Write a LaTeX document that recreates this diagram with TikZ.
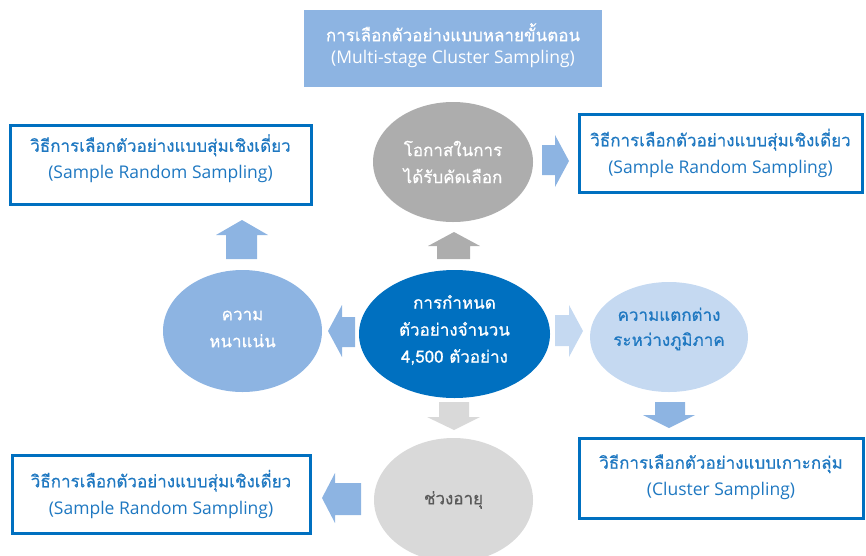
\documentclass[tikz,border=0pt]{standalone}
\usepackage{fontspec}
\setmainfont{Open Sans}
\newfontfamily\thai[Script=Thai,FakeBold=0.6]{Loma}
\usetikzlibrary{shapes.geometric}
\definecolor{dblue}{HTML}{0070C0}
\definecolor{mblue}{HTML}{8DB4E2}
\definecolor{lblue}{HTML}{C5D9F1}
\definecolor{dgray}{HTML}{ADADAD}
\definecolor{lgray}{HTML}{D9D9D9}
\definecolor{tblue}{HTML}{1F78C1}
\definecolor{tgray}{HTML}{595959}
\tikzset{
  x=1pt, y=-1pt,
  oval/.style={ellipse, inner sep=0pt},
  ovaltext/.style={inner sep=0pt, align=center, font=\thai\fontsize{17}{27}\selectfont},
  outbox/.style={rectangle, draw=dblue, line width=3pt, inner sep=0pt},
  boxtext/.style={inner sep=0pt, align=center, text=tblue},
  fillbox/.style={rectangle, fill=mblue, inner sep=0pt},
}
\newcommand\twol[2]{{\thai\fontsize{17}{17}\selectfont #1}\\[8pt]{\fontsize{17.5}{17.5}\selectfont #2}}
\begin{document}
\begin{tikzpicture}
\useasboundingbox (0,0) rectangle (866,555);
\clip (0,0) rectangle (866,555);
% boxes
\node[fillbox, minimum width=298pt, minimum height=77pt] (top) at (453,48.5) {};
\node[boxtext, text=white] at ([yshift=3pt]top.center) {\twol{การเลือกตัวอย่างแบบหลายขั้นตอน}{(Multi-stage Cluster Sampling)}};
\node[outbox, minimum width=301pt, minimum height=79pt] (tl) at (160.5,164.5) {};
\node[boxtext] at ([yshift=6pt]tl.center) {\twol{วิธีการเลือกตัวอย่างแบบสุ่มเชิงเดี่ยว}{(Sample Random Sampling)}};
\node[outbox, minimum width=283pt, minimum height=78pt] (tr) at (720.5,153) {};
\node[boxtext] at (tr.center) {\twol{วิธีการเลือกตัวอย่างแบบสุ่มเชิงเดี่ยว}{(Sample Random Sampling)}};
\node[outbox, minimum width=284pt, minimum height=80pt] (br) at (721,478) {};
\node[boxtext] at ([yshift=1pt]br.center) {\twol{วิธีการเลือกตัวอย่างแบบเกาะกลุ่ม}{(Cluster Sampling)}};
\node[outbox, minimum width=298pt, minimum height=78pt] (bl) at (161,494) {};
\node[boxtext] at (bl.center) {\twol{วิธีการเลือกตัวอย่างแบบสุ่มเชิงเดี่ยว}{(Sample Random Sampling)}};
% ellipses
\node[oval, fill=dgray, minimum width=160pt, minimum height=120pt] (chance) at (453,162) {};
\node[ovaltext, text=white] at (chance.center) {โอกาสในการ\\ได้รับคัดเลือก};
\node[oval, fill=mblue, minimum width=159pt, minimum height=122pt] (dens) at (242.5,331) {};
\node[ovaltext, text=white] at ([yshift=2pt]dens.center) {ความ\\หนาแน่น};
\node[oval, fill=dblue, minimum width=191pt, minimum height=128pt] (center) at (454.5,334) {};
\node[ovaltext, text=white] at ([yshift=4pt]center.center) {การกำหนด\\ตัวอย่างจำนวน\\4,500 ตัวอย่าง};
\node[oval, fill=lblue, minimum width=158pt, minimum height=110pt] (region) at (669,337) {};
\node[ovaltext, text=tblue, font=\thai\fontsize{17}{25}\selectfont] at ([yshift=8pt]region.center) {ความแตกต่าง\\ระหว่างภูมิภาค};
\node[oval, fill=lgray, minimum width=159pt, minimum height=124pt] (age) at (453.5,500) {};
\node[ovaltext, text=tgray] at (age.center) {ช่วงอายุ};
% block arrows
\fill[mblue] (226,259) -- (226,235) -- (216,235) -- (242,220) -- (268,235) -- (257,235) -- (257,259) -- cycle;
\fill[dgray] (437,259) -- (437,246) -- (428,246) -- (454,232) -- (480,246) -- (470,246) -- (470,259) -- cycle;
\fill[mblue] (355,317) -- (342,317) -- (342,305) -- (328,331) -- (342,357) -- (342,347) -- (355,347) -- cycle;
\fill[lblue] (555,315) -- (569,315) -- (569,305) -- (583,331) -- (569,357) -- (569,346) -- (555,346) -- cycle;
\fill[mblue] (542,145) -- (555,145) -- (555,135) -- (569,161) -- (555,187) -- (555,175) -- (542,175) -- cycle;
\fill[mblue] (655,402) -- (655,415) -- (643,415) -- (669,428) -- (695,415) -- (685,415) -- (685,402) -- cycle;
\fill[lgray] (439,402) -- (439,417) -- (427,417) -- (454,430) -- (480,417) -- (469,417) -- (469,402) -- cycle;
\fill[mblue] (361,483) -- (335,483) -- (335,473) -- (322,498) -- (335,523) -- (335,515) -- (361,515) -- cycle;
\end{tikzpicture}
\end{document}
